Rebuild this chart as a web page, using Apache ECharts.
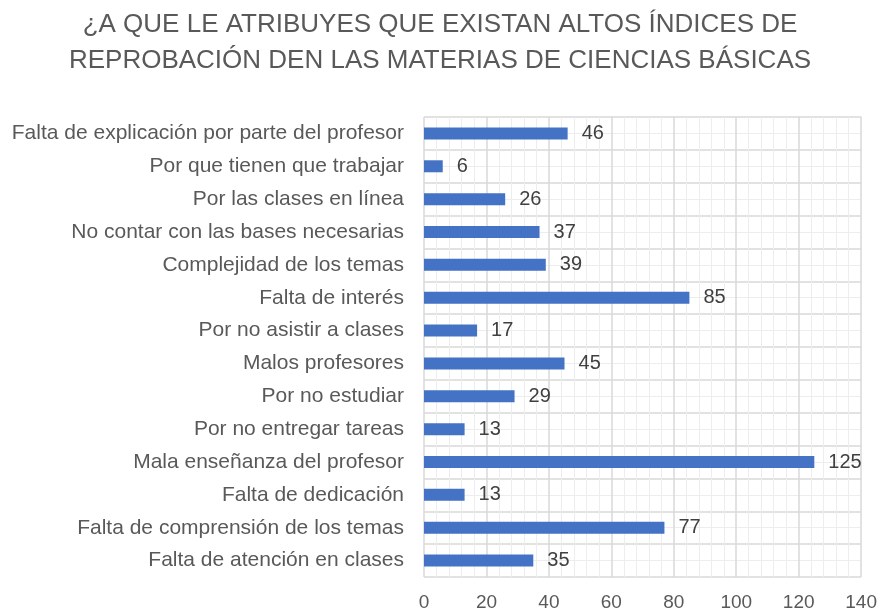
<!DOCTYPE html>
<html>
<head>
<meta charset="utf-8">
<script src="https://cdn.jsdelivr.net/npm/echarts@6/dist/echarts.min.js"></script>
<style>
  html, body { margin: 0; padding: 0; background: #fff; }
  #chart { width: 880px; height: 615px; }
</style>
</head>
<body>
<div id="chart"></div>
<script>
// categorias de abajo hacia arriba (eje category de ECharts empieza abajo)
const categories = [
  'Falta de atención en clases',
  'Falta de comprensión de los temas',
  'Falta de dedicación',
  'Mala enseñanza del profesor',
  'Por no entregar tareas',
  'Por no estudiar',
  'Malos profesores',
  'Por no asistir a clases',
  'Falta de interés',
  'Complejidad de los temas',
  'No contar con las bases necesarias',
  'Por las clases en línea',
  'Por que tienen que trabajar',
  'Falta de explicación por parte del profesor'
];
const values = [35, 77, 13, 125, 13, 29, 45, 17, 85, 39, 37, 26, 6, 46];
const xTicks = [0, 140, 20];

const titleText = '¿A QUE LE ATRIBUYES QUE EXISTAN ALTOS ÍNDICES DE\nREPROBACIÓN DEN LAS MATERIAS DE CIENCIAS BÁSICAS';
const font = 'Liberation Sans';

const chart = echarts.init(document.getElementById('chart'));

const option = {
  animation: false,
  title: {
    text: titleText,
    left: 'center',
    top: 2,
    textStyle: {
      fontFamily: font,
      fontSize: 26,
      fontWeight: 'normal',
      color: '#595959',
      lineHeight: 36
    }
  },
  grid: {
    left: 424,
    right: 18,
    top: 117,
    bottom: 38
  },
  xAxis: {
    type: 'value',
    min: xTicks[0],
    max: xTicks[1],
    interval: xTicks[2],
    axisLine: { show: false },
    axisTick: { show: false },
    axisLabel: {
      margin: 16,
      fontFamily: font,
      fontSize: 19,
      color: '#595959'
    },
    splitLine: { lineStyle: { color: '#d9d9d9', width: 1.5 } },
    minorTick: { show: false, splitNumber: 5 },
    minorSplitLine: { show: true, lineStyle: { color: '#ededed', width: 1 } }
  },
  yAxis: [
    {
      type: 'category',
      data: categories,
      axisLine: { show: false },
      axisTick: { show: false },
      axisLabel: {
        margin: 20,
        fontFamily: font,
        fontSize: 21,
        color: '#595959'
      },
      splitLine: { show: false }
    },
    {
      // eje auxiliar solo para las lineas de la cuadricula horizontal
      type: 'value',
      min: 0,
      max: categories.length,
      interval: 1,
      position: 'left',
      axisLine: { show: false },
      axisTick: { show: false },
      axisLabel: { show: false },
      splitLine: { lineStyle: { color: '#d9d9d9', width: 1.5 } },
      minorTick: { show: false, splitNumber: 2 },
      minorSplitLine: { show: true, lineStyle: { color: '#ededed', width: 1 } }
    }
  ],
  series: [
    {
      type: 'bar',
      yAxisIndex: 0,
      data: values,
      barWidth: 12,
      itemStyle: { color: '#4472C4' },
      label: {
        show: true,
        position: 'right',
        distance: 14,
        fontFamily: font,
        fontSize: 20,
        color: '#404040'
      }
    }
  ]
};

chart.setOption(option);
</script>
</body>
</html>
